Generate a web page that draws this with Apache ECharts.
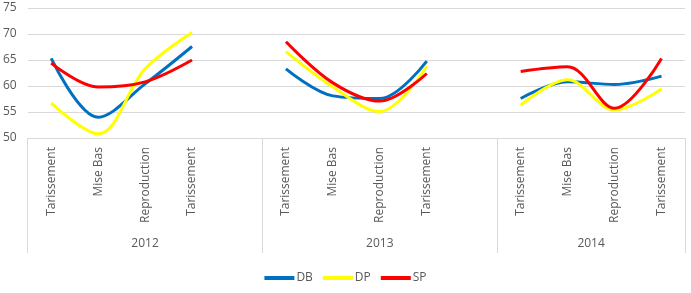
<!DOCTYPE html>
<html>
<head>
<meta charset="utf-8">
<script src="https://cdn.jsdelivr.net/npm/echarts@6/dist/echarts.min.js"></script>
<style>
  html, body { margin: 0; padding: 0; background: #fff; }
  #chart { width: 691px; height: 293px; }
</style>
</head>
<body>
<div id="chart"></div>
<script>
// stages per year, blank slot separates the years
var categories = [
  'Tarissement', 'Mise Bas', 'Reproduction', 'Tarissement', '',
  'Tarissement', 'Mise Bas', 'Reproduction', 'Tarissement', '',
  'Tarissement', 'Mise Bas', 'Reproduction', 'Tarissement'
]
// year row: half-slot positions, years sit in the middle of their block
var yearLabels = [
  '', '', '', '', '', '2012', '', '', '', '', '',
  '', '', '', '', '2013', '', '', '', '', '',
  '', '', '', '2014', '', '', '', ''
]
var groupEdges = [0, 10, 20, 28]

var dbValues = [65.3, 54.0, 60.4, 67.6, null, 63.3, 58.1, 57.6, 64.8, null, 57.6, 60.8, 60.3, 61.9]
var dpValues = [56.7, 50.8, 63.3, 70.3, null, 66.6, 59.8, 55.1, 63.8, null, 56.3, 61.2, 55.4, 59.4]
var spValues = [64.4, 59.8, 60.8, 65.0, null, 68.5, 60.6, 57.1, 62.4, null, 62.8, 63.7, 55.7, 65.3]

var textColor = '#595959'
var lineGray = '#d9d9d9'
var font = 'Open Sans'

function lineSeries (name, data, color) {
  return {
    name: name,
    type: 'line',
    data: data,
    smooth: 0.35,
    symbol: 'none',
    connectNulls: false,
    lineStyle: { color: color, width: 3 },
    itemStyle: { color: color }
  }
}

var chart = echarts.init(document.getElementById('chart'))
chart.setOption({
  backgroundColor: '#fff',
  animation: false,
  textStyle: { fontFamily: font },
  grid: {
    left: 25,
    right: 6,
    top: 8,
    bottom: 155
  },
  legend: {
    bottom: 4,
    left: 'center',
    icon: 'rect',
    itemWidth: 30,
    itemHeight: 4,
    itemGap: 10,
    textStyle: { color: textColor, fontSize: 12, fontFamily: font, padding: [0, 0, 0, -3] },
    data: ['DB', 'DP', 'SP']
  },
  xAxis: [
    {
      type: 'category',
      data: categories,
      boundaryGap: true,
      axisLine: { lineStyle: { color: lineGray } },
      axisTick: { show: false },
      axisLabel: {
        interval: 0,
        rotate: 90,
        margin: 9,
        color: textColor,
        fontSize: 12,
        fontFamily: font
      }
    },
    {
      type: 'category',
      data: yearLabels,
      boundaryGap: false,
      position: 'bottom',
      offset: 0,
      axisLine: { show: false },
      axisTick: {
        show: true,
        length: 115,
        interval: function (index) { return groupEdges.indexOf(index) >= 0 },
        lineStyle: { color: lineGray }
      },
      axisLabel: {
        interval: 0,
        margin: 100,
        color: textColor,
        fontSize: 12,
        fontFamily: font
      }
    }
  ],
  yAxis: {
    type: 'value',
    min: 50,
    max: 75,
    interval: 5,
    axisLine: { show: false },
    axisTick: { show: false },
    splitLine: { lineStyle: { color: lineGray } },
    axisLabel: { color: textColor, fontSize: 12, margin: 11, fontFamily: font }
  },
  series: [
    lineSeries('DB', dbValues, '#0070C0'),
    lineSeries('DP', dpValues, '#FFFF00'),
    lineSeries('SP', spValues, '#FF0000')
  ]
})
</script>
</body>
</html>
